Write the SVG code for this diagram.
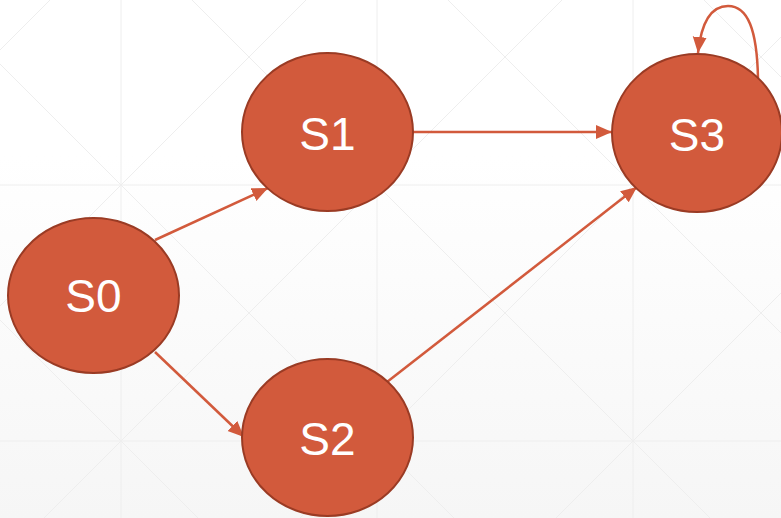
<svg xmlns="http://www.w3.org/2000/svg" width="781" height="518" viewBox="0 0 781 518">
  <defs>
    <linearGradient id="bg" x1="0" y1="0" x2="0" y2="1">
      <stop offset="0.3" stop-color="#ffffff"/>
      <stop offset="1" stop-color="#f6f6f6"/>
    </linearGradient>
    <marker id="arr" markerUnits="userSpaceOnUse" markerWidth="17" markerHeight="15" refX="16" refY="7" orient="auto">
      <path d="M0,0 L16,7 L0,14 z" fill="#d25a3c"/>
    </marker>
    <style>
      .grid line { stroke: #eeeeee; stroke-width: 1; }
      .node ellipse { fill: #d25a3c; stroke: #9a3b24; stroke-width: 2; }
      .node text { fill: #ffffff; font-family: "Liberation Sans", Arial, sans-serif; font-size: 46px; text-anchor: middle; }
      .edge { stroke: #d25a3c; stroke-width: 2.5; fill: none; marker-end: url(#arr); }
    </style>
  </defs>
  <rect x="0" y="0" width="781" height="518" fill="url(#bg)"/>
  <g class="grid">
    <line x1="121" y1="0" x2="121" y2="518"/>
    <line x1="377" y1="0" x2="377" y2="518"/>
    <line x1="633" y1="0" x2="633" y2="518"/>
    <line x1="0" y1="185" x2="781" y2="185"/>
    <line x1="0" y1="441" x2="781" y2="441"/>
    <line x1="-320" y1="0" x2="198" y2="518"/>
    <line x1="-64" y1="0" x2="454" y2="518"/>
    <line x1="192" y1="0" x2="710" y2="518"/>
    <line x1="448" y1="0" x2="966" y2="518"/>
    <line x1="704" y1="0" x2="1222" y2="518"/>
    <line x1="50" y1="0" x2="-468" y2="518"/>
    <line x1="306" y1="0" x2="-212" y2="518"/>
    <line x1="562" y1="0" x2="44" y2="518"/>
    <line x1="818" y1="0" x2="300" y2="518"/>
    <line x1="1074" y1="0" x2="556" y2="518"/>
    <line x1="1330" y1="0" x2="812" y2="518"/>
  </g>
  <g id="connectors">
    <line class="edge" x1="155" y1="240" x2="268" y2="188"/>
    <line class="edge" x1="155" y1="352" x2="244" y2="437"/>
    <line class="edge" x1="413" y1="132" x2="612" y2="132"/>
    <line class="edge" x1="387" y1="382" x2="637" y2="187"/>
    <path class="edge" d="M758,78 C757,30 748,6 728,6 C710,6 701,25 698,53"/>
  </g>
  <g id="S0" class="node">
    <ellipse cx="93.5" cy="295.5" rx="85.5" ry="77.5"/>
    <text x="93.5" y="312">S0</text>
  </g>
  <g id="S1" class="node">
    <ellipse cx="327.5" cy="132" rx="85.5" ry="79"/>
    <text x="327.5" y="150">S1</text>
  </g>
  <g id="S2" class="node">
    <ellipse cx="327.5" cy="437.5" rx="85.5" ry="78.5"/>
    <text x="327.5" y="455">S2</text>
  </g>
  <g id="S3" class="node">
    <ellipse cx="697" cy="133" rx="85" ry="79"/>
    <text x="697" y="151">S3</text>
  </g>
</svg>
